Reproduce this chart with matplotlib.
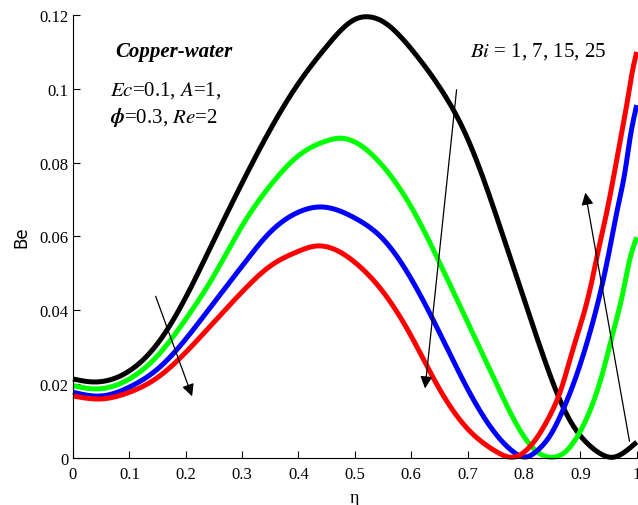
import numpy as np
import matplotlib
matplotlib.use("Agg")
import matplotlib.pyplot as plt

plt.rcParams['mathtext.fontset'] = 'stix'

# Bi = 1 (black)
eta_bi1 = [0.0, 0.035, 0.1, 0.15, 0.2, 0.25, 0.3, 0.35, 0.4, 0.45, 0.5, 0.525, 0.55, 0.6, 0.65,
           0.7, 0.75, 0.8, 0.834, 0.858, 0.887, 0.917, 0.94, 0.958, 0.982, 1.0]
be_bi1 = [0.0214, 0.0206, 0.0236, 0.031, 0.0435, 0.059, 0.0745, 0.089, 0.1015, 0.1115, 0.1188,
          0.1195, 0.1182, 0.1108, 0.1005, 0.0865, 0.066, 0.043, 0.0277, 0.0178, 0.0088, 0.0033,
          0.0008, 0.0002, 0.002, 0.0043]
# Bi = 7 (green)
eta_bi7 = [0.0, 0.04, 0.1, 0.15, 0.2, 0.25, 0.3, 0.35, 0.4, 0.45, 0.47, 0.5, 0.55, 0.6, 0.65,
           0.7, 0.75, 0.8, 0.825, 0.852, 0.872, 0.899, 0.925, 0.943, 0.958, 0.973, 0.988, 1.0]
be_bi7 = [0.0196, 0.0187, 0.0214, 0.0277, 0.0376, 0.0494, 0.0629, 0.0738, 0.0819, 0.0859, 0.0866,
          0.0856, 0.079, 0.068, 0.053, 0.0368, 0.0205, 0.0058, 0.0015, 0.0002, 0.0015, 0.007,
          0.016, 0.025, 0.034, 0.043, 0.054, 0.0598]
# Bi = 15 (blue)
eta_bi15 = [0.0, 0.05, 0.1, 0.15, 0.2, 0.25, 0.3, 0.35, 0.4, 0.44, 0.5, 0.55, 0.6, 0.65, 0.7,
            0.75, 0.78, 0.805, 0.822, 0.846, 0.87, 0.893, 0.917, 0.937, 0.952, 0.967, 0.979,
            0.988, 1.0]
be_bi15 = [0.0178, 0.0168, 0.0192, 0.0241, 0.0322, 0.0421, 0.052, 0.0612, 0.0666, 0.068, 0.065,
           0.0593, 0.0485, 0.034, 0.0187, 0.0065, 0.0018, 0.0003, 0.0018, 0.006, 0.0133, 0.0223,
           0.034, 0.0458, 0.0566, 0.0683, 0.0774, 0.0865, 0.0956]
# Bi = 25 (red)
eta_bi25 = [0.0, 0.05, 0.1, 0.15, 0.2, 0.25, 0.3, 0.35, 0.4, 0.43, 0.5, 0.55, 0.6, 0.65, 0.7,
            0.75, 0.78, 0.81, 0.846, 0.866, 0.887, 0.905, 0.92, 0.931, 0.943, 0.955, 0.967,
            0.982, 0.992, 1.0]
be_bi25 = [0.0168, 0.016, 0.0178, 0.0218, 0.0286, 0.0368, 0.045, 0.052, 0.056, 0.0574, 0.053,
           0.045, 0.033, 0.0187, 0.0079, 0.0018, 0.0002, 0.003, 0.0115, 0.0187, 0.0295, 0.0385,
           0.0476, 0.0556, 0.0638, 0.0729, 0.0828, 0.0954, 0.1045, 0.110]

series = [(eta_bi1, be_bi1, 'black'), (eta_bi7, be_bi7, '#00ff00'),
          (eta_bi15, be_bi15, 'blue'), (eta_bi25, be_bi25, 'red')]

xticks = [0, 0.1, 0.2, 0.3, 0.4, 0.5, 0.6, 0.7, 0.8, 0.9, 1]
xtick_labels = ['0', '0.1', '0.2', '0.3', '0.4', '0.5', '0.6', '0.7', '0.8', '0.9', '1']
yticks = [0, 0.02, 0.04, 0.06, 0.08, 0.1, 0.12]
ytick_labels = ['0', '0.02', '0.04', '0.06', '0.08', '0.1', '0.12']


def cubic_spline(x, y, xn):
    x = np.asarray(x, float); y = np.asarray(y, float)
    n = len(x); h = np.diff(x)
    A = np.zeros((n, n)); r = np.zeros(n)
    A[0, 0] = 1; A[-1, -1] = 1
    for i in range(1, n - 1):
        A[i, i - 1] = h[i - 1]; A[i, i] = 2 * (h[i - 1] + h[i]); A[i, i + 1] = h[i]
        r[i] = 3 * ((y[i + 1] - y[i]) / h[i] - (y[i] - y[i - 1]) / h[i - 1])
    c = np.linalg.solve(A, r)
    b = (y[1:] - y[:-1]) / h - h * (2 * c[:-1] + c[1:]) / 3
    d = (c[1:] - c[:-1]) / (3 * h)
    idx = np.clip(np.searchsorted(x, xn) - 1, 0, n - 2)
    t = xn - x[idx]
    return y[idx] + b[idx] * t + c[idx] * t**2 + d[idx] * t**3


fig = plt.figure(figsize=(6.38, 5.06), dpi=100)
ax = fig.add_axes([0.1144, 0.0929, 0.8836, 0.8755])

xf = np.linspace(0, 1, 600)
for xs, ys, c in series:
    yf = np.clip(cubic_spline(xs, ys, xf), 0, None)
    ax.plot(xf, yf, color=c, lw=3.6, solid_capstyle='butt', clip_on=False)

ax.set_xlim(0, 1)
ax.set_ylim(0, 0.12)
ax.set_xticks(xticks)
ax.set_xticklabels(xtick_labels)
ax.set_yticks(yticks)
ax.set_yticklabels(ytick_labels)
ax.tick_params(direction='in', length=5, width=0.8, labelsize=12)
ax.tick_params(axis='x', pad=6)
for lab in ax.get_xticklabels() + ax.get_yticklabels():
    lab.set_family('Liberation Serif')
ax.spines['top'].set_visible(False)
ax.spines['right'].set_visible(False)

ax.set_xlabel('η', fontsize=13, family='Liberation Serif', labelpad=5)
ax.set_ylabel('Be', fontsize=12, family='DejaVu Sans', labelpad=6)

fs = 15
ax.text(0.075, 0.1102, 'Copper-water', fontsize=fs, family='Liberation Serif',
        style='italic', weight='bold', ha='left', va='center')
ax.text(0.066, 0.0998, r'$Ec$=0.1, $A$=1,', fontsize=fs, family='Liberation Serif',
        ha='left', va='center')
ax.text(0.066, 0.0925, r'$\boldsymbol{\phi}$=0.3, $Re$=2', fontsize=fs, family='Liberation Serif',
        ha='left', va='center')
ax.text(0.705, 0.1105, r'$Bi$ = 1, 7, 15, 25', fontsize=fs, family='Liberation Serif',
        ha='left', va='center')

arrow_kw = dict(arrowstyle='-|>', color='black', lw=0.9, mutation_scale=18)
ax.annotate('', xy=(0.213, 0.0160), xytext=(0.145, 0.0445), arrowprops=arrow_kw)
ax.annotate('', xy=(0.624, 0.0181), xytext=(0.681, 0.1005), arrowprops=arrow_kw)
ax.annotate('', xy=(0.908, 0.0726), xytext=(0.988, 0.0038), arrowprops=arrow_kw)

fig.savefig('out.png', dpi=100)
